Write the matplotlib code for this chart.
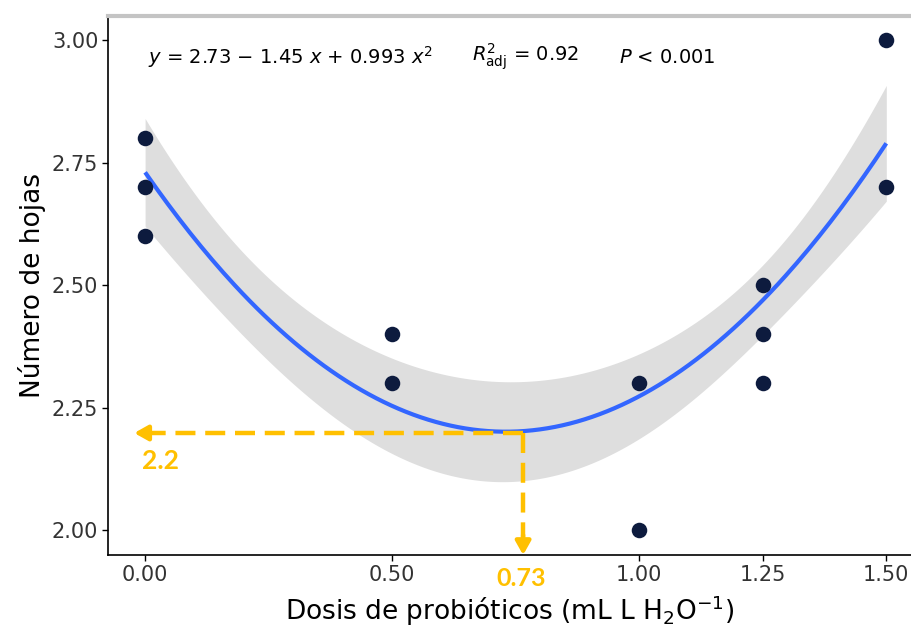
import numpy as np
import matplotlib
matplotlib.use("Agg")
import matplotlib.pyplot as plt

# observed points (dose, leaves)
dose = [0.0, 0.0, 0.0, 0.5, 0.5, 1.0, 1.0, 1.25, 1.25, 1.25, 1.5, 1.5]
hojas = [2.8, 2.7, 2.6, 2.4, 2.3, 2.3, 2.0, 2.5, 2.4, 2.3, 3.0, 2.7]

# fitted quadratic as printed on the chart: y = b0 + b1 x + b2 x^2
b0, b1, b2 = 2.73, -1.45, 0.993
resid_sd = 0.086    # residual sd, estimated from band width
t975 = 2.262

# hand-drawn annotation of the minimum
arrow_x, arrow_y = 0.765, 2.198
min_x_label, min_y_label = "0.73", "2.2"

x_ticks = [0.0, 0.5, 1.0, 1.25, 1.5]
x_labels = ["0.00", "0.50", "1.00", "1.25", "1.50"]
y_ticks = [2.0, 2.25, 2.5, 2.75, 3.0]
y_labels = ["2.00", "2.25", "2.50", "2.75", "3.00"]

plt.rcParams['font.family'] = ['DejaVu Sans']
plt.rcParams['mathtext.fontset'] = 'dejavusans'

x = np.array(dose)
X = np.vander(x, 3)
xtx_inv = np.linalg.inv(X.T @ X)
xs = np.linspace(0, 1.5, 200)
Xs = np.vander(xs, 3)
fit = np.polyval([b2, b1, b0], xs)
half = t975 * resid_sd * np.sqrt(np.einsum('ij,jk,ik->i', Xs, xtx_inv, Xs))

orange = '#ffc000'

fig = plt.figure(figsize=(9.11, 6.26), dpi=100)
ax = fig.add_axes([0.1186, 0.1134, 0.8814, 0.861])
ax.fill_between(xs, fit - half, fit + half, color='#dedede', lw=0)
ax.plot(xs, fit, color='#3366ff', lw=3, solid_capstyle='butt')
ax.scatter(dose, hojas, s=125, color='#0d1b3e', zorder=4, lw=0)

ax.set_xlim(-0.075, 1.55)
ax.set_ylim(1.949, 3.049)

# dashed guide lines with arrowheads
ax.plot([arrow_x, 0.0], [arrow_y, arrow_y], color=orange, lw=3.2,
        dashes=(4.5, 2.2), zorder=5)
ax.plot([arrow_x, arrow_x], [arrow_y, 1.985], color=orange, lw=3.2,
        dashes=(4.5, 2.2), zorder=5)
ax.annotate("", xy=(-0.022, arrow_y), xytext=(0.01, arrow_y),
            arrowprops=dict(arrowstyle='-|>,head_length=0.8,head_width=0.45',
                            color=orange, lw=3.2, shrinkA=0, shrinkB=0), zorder=6)
ax.annotate("", xy=(arrow_x, 1.949), xytext=(arrow_x, 1.99),
            arrowprops=dict(arrowstyle='-|>,head_length=0.8,head_width=0.45',
                            color=orange, lw=3.2, shrinkA=0, shrinkB=0),
            zorder=6, annotation_clip=False)
ax.text(0.032, 2.141, min_y_label, color=orange, fontsize=19, fontweight='bold',
        family='Lato', ha='center', va='center')
ax.text(arrow_x - 0.005, 1.902, min_x_label, color=orange, fontsize=18,
        fontweight='bold', family='Lato', ha='center', va='center', clip_on=False)

# equation text
eq_size = 14
ax.text(0.006, 2.965, r"$y$ = 2.73 $-$ 1.45 $x$ + 0.993 $x^2$", fontsize=eq_size,
        ha='left', va='center')
ax.text(0.662, 2.965, r"$R^2_{\mathrm{adj}}$ = 0.92", fontsize=eq_size,
        ha='left', va='center')
ax.text(0.96, 2.965, r"$P$ < 0.001", fontsize=eq_size, ha='left', va='center')

ax.set_xticks(x_ticks)
ax.set_xticklabels(x_labels)
ax.set_yticks(y_ticks)
ax.set_yticklabels(y_labels)
ax.tick_params(labelsize=15, labelcolor='#333333', length=4, width=1, pad=3)
ax.set_xlabel(r"Dosis de probióticos (mL L H$_2$O$^{-1}$)", fontsize=19, labelpad=6)
ax.set_ylabel("Número de hojas", fontsize=19, labelpad=4)

for s in ['left', 'bottom']:
    ax.spines[s].set_linewidth(1.2)
ax.spines['right'].set_visible(False)
ax.spines['top'].set_color('#c4c4c4')
ax.spines['top'].set_linewidth(3)

fig.savefig("out.png")
